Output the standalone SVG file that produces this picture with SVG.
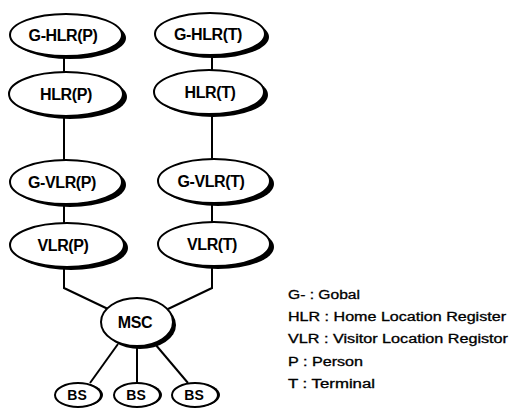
<svg xmlns="http://www.w3.org/2000/svg" width="510" height="409" viewBox="0 0 510 409">
  <style>
    .shadow { fill: #000; }
    .body { fill: #fff; stroke: #000; stroke-width: 2; }
    .wire { fill: none; stroke: #000; stroke-width: 2; }
    .lbl { font-family: "Liberation Sans", Arial, sans-serif; font-weight: bold; font-size: 16px; letter-spacing: -0.4px; text-anchor: middle; fill: #000; }
    .small { font-size: 14px; letter-spacing: 0; }
    .legend { font-family: "Liberation Sans", Arial, sans-serif; font-size: 12px; fill: #000; stroke: #000; stroke-width: 0.3; }
  </style>

  <!-- connectors -->
  <g id="connectors">
    <path class="wire" d="M64,40 V250"/>
    <path class="wire" d="M212,40 V250"/>
    <path class="wire" d="M64,250 V288 L108,309"/>
    <path class="wire" d="M212,250 V288 L168,309"/>
    <path class="wire" d="M118,344 L90,383"/>
    <path class="wire" d="M137,346 V383"/>
    <path class="wire" d="M155,344 L188,383"/>
  </g>

  <!-- left column: person registers -->
  <g id="g-hlr-p">
    <ellipse class="shadow" cx="70" cy="38" rx="56" ry="21"/>
    <ellipse class="body" cx="66" cy="35" rx="56" ry="21"/>
    <text class="lbl" x="63" y="41">G-HLR(P)</text>
  </g>
  <g id="hlr-p">
    <ellipse class="shadow" cx="70" cy="97" rx="57" ry="22"/>
    <ellipse class="body" cx="66" cy="94" rx="57" ry="22"/>
    <text class="lbl" x="66" y="100">HLR(P)</text>
  </g>
  <g id="g-vlr-p">
    <ellipse class="shadow" cx="70" cy="185" rx="56" ry="22"/>
    <ellipse class="body" cx="66" cy="182" rx="56" ry="22"/>
    <text class="lbl" x="62" y="188">G-VLR(P)</text>
  </g>
  <g id="vlr-p">
    <ellipse class="shadow" cx="71" cy="248" rx="57" ry="22"/>
    <ellipse class="body" cx="67" cy="245" rx="57" ry="22"/>
    <text class="lbl" x="63" y="251">VLR(P)</text>
  </g>

  <!-- right column: terminal registers -->
  <g id="g-hlr-t">
    <ellipse class="shadow" cx="214" cy="37" rx="55" ry="21"/>
    <ellipse class="body" cx="210" cy="34" rx="55" ry="21"/>
    <text class="lbl" x="208" y="40">G-HLR(T)</text>
  </g>
  <g id="hlr-t">
    <ellipse class="shadow" cx="213" cy="95" rx="55" ry="22"/>
    <ellipse class="body" cx="209" cy="92" rx="55" ry="22"/>
    <text class="lbl" x="210" y="98">HLR(T)</text>
  </g>
  <g id="g-vlr-t">
    <ellipse class="shadow" cx="218" cy="184" rx="56" ry="22"/>
    <ellipse class="body" cx="214" cy="181" rx="56" ry="22"/>
    <text class="lbl" x="211" y="187">G-VLR(T)</text>
  </g>
  <g id="vlr-t">
    <ellipse class="shadow" cx="218" cy="247" rx="56" ry="22"/>
    <ellipse class="body" cx="214" cy="244" rx="56" ry="22"/>
    <text class="lbl" x="212" y="250">VLR(T)</text>
  </g>

  <!-- switching centre and base stations -->
  <g id="msc">
    <ellipse class="shadow" cx="140" cy="325" rx="36" ry="24"/>
    <ellipse class="body" cx="137" cy="322" rx="36" ry="24"/>
    <text class="lbl" x="135" y="328">MSC</text>
  </g>
  <g id="bs-1">
    <ellipse class="shadow" cx="80" cy="395" rx="23" ry="12"/>
    <ellipse class="body" cx="78" cy="395" rx="23" ry="12"/>
    <text class="lbl small" x="77" y="400">BS</text>
  </g>
  <g id="bs-2">
    <ellipse class="shadow" cx="139" cy="395" rx="23" ry="12"/>
    <ellipse class="body" cx="137" cy="395" rx="23" ry="12"/>
    <text class="lbl small" x="136" y="400">BS</text>
  </g>
  <g id="bs-3">
    <ellipse class="shadow" cx="197" cy="395" rx="23" ry="12"/>
    <ellipse class="body" cx="195" cy="395" rx="23" ry="12"/>
    <text class="lbl small" x="194" y="400">BS</text>
  </g>

  <!-- abbreviations -->
  <g id="legend">
    <text class="legend" x="288" y="299" textLength="72" lengthAdjust="spacingAndGlyphs">G- : Gobal</text>
    <text class="legend" x="288" y="321" textLength="218" lengthAdjust="spacingAndGlyphs">HLR : Home Location Register</text>
    <text class="legend" x="288" y="343" textLength="220" lengthAdjust="spacingAndGlyphs">VLR : Visitor Location Registor</text>
    <text class="legend" x="288" y="366" textLength="75" lengthAdjust="spacingAndGlyphs">P : Person</text>
    <text class="legend" x="288" y="388" textLength="87" lengthAdjust="spacingAndGlyphs">T : Terminal</text>
  </g>
</svg>
